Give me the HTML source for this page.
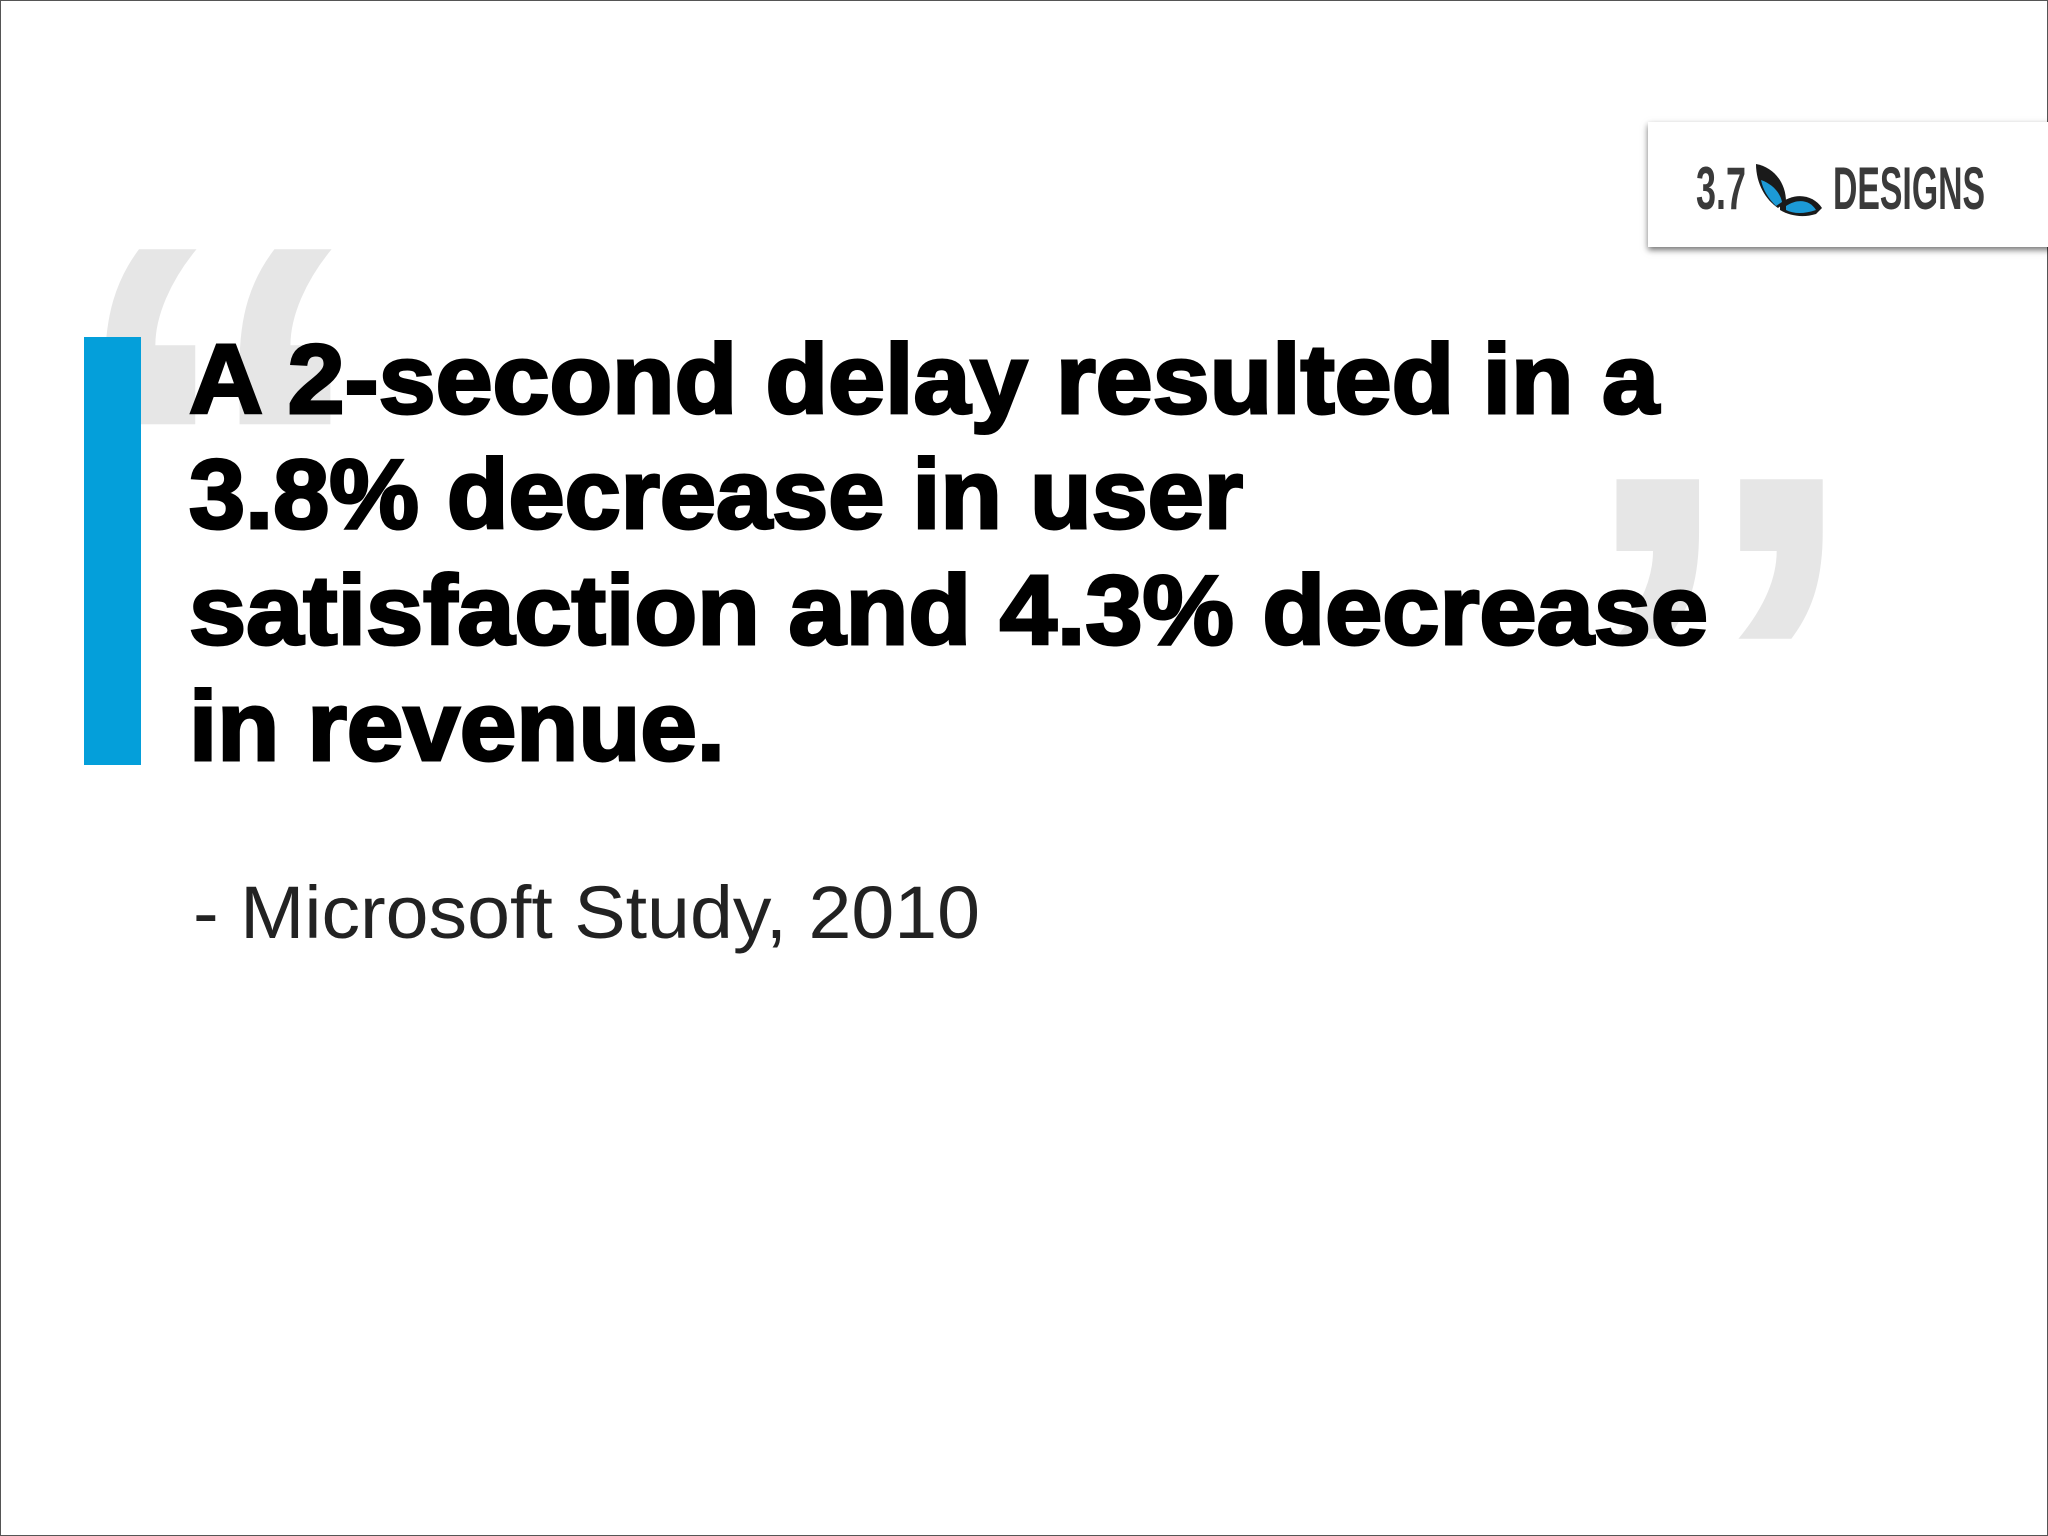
<!DOCTYPE html>
<html>
<head>
<meta charset="utf-8">
<style>
html,body{margin:0;padding:0;background:#fff;}
body{width:2048px;height:1536px;overflow:hidden;position:relative;}
.frame{position:absolute;left:0;top:0;width:2046px;height:1534px;border:1px solid #555;}
.logo{position:absolute;left:1648px;top:122px;width:420px;height:125px;background:#fff;box-shadow:0 3px 6px rgba(0,0,0,.55);}
</style>
</head>
<body>
<div class="frame"></div>
<svg width="2048" height="1536" style="position:absolute;left:0;top:0">
  <text transform="translate(104,248) scale(1.405,1.24) translate(-137,-268)" x="104" y="613" font-family="Liberation Sans, sans-serif" font-weight="bold" font-size="500" fill="#e6e6e6" textLength="229" lengthAdjust="spacingAndGlyphs">“</text>
  <text transform="translate(1613,477) scale(1.37,1.13) translate(-1643,-496)" x="1613" y="842" font-family="Liberation Sans, sans-serif" font-weight="bold" font-size="500" fill="#e6e6e6" textLength="215" lengthAdjust="spacingAndGlyphs">”</text>
  <rect x="84" y="337" width="57" height="428" fill="#049fda"/>
  <g font-family="Liberation Sans, sans-serif" font-weight="900" font-size="98" fill="#000" stroke="#000" stroke-width="3">
    <text x="189" y="413" textLength="1470" lengthAdjust="spacingAndGlyphs">A 2-second delay resulted in a</text>
    <text x="189" y="528" textLength="1054" lengthAdjust="spacingAndGlyphs">3.8% decrease in user</text>
    <text x="189" y="644" textLength="1519" lengthAdjust="spacingAndGlyphs">satisfaction and 4.3% decrease</text>
    <text x="189" y="760" textLength="536" lengthAdjust="spacingAndGlyphs">in revenue.</text>
  </g>
  <text x="193" y="938" font-family="Liberation Sans, sans-serif" font-size="74" fill="#222" textLength="787" lengthAdjust="spacingAndGlyphs">- Microsoft Study, 2010</text>
</svg>
<div class="logo">
  <svg width="400" height="125">
    <text x="48" y="87" font-family="Liberation Sans, sans-serif" font-weight="bold" font-size="60" fill="#3a3a3a" textLength="50" lengthAdjust="spacingAndGlyphs">3.7</text>
    <g>
      <path d="M108 42 C125 45 138 60 138 80 L130 86 C118 78 108 62 108 42Z" fill="#1a1a1a"/>
      <path d="M113 58 C124 62 132 70 134 80 L128 84 C120 76 115 68 113 58Z" fill="#1c9ad6"/>
      <path d="M132 82 C145 70 165 72 174 86 L168 92 C155 96 142 94 132 88Z" fill="#1a1a1a"/>
      <path d="M138 84 C150 76 162 78 168 88 C156 92 146 92 138 88Z" fill="#1c9ad6"/>
    </g>
    <text x="185" y="87" font-family="Liberation Sans, sans-serif" font-weight="bold" font-size="60" fill="#3a3a3a" textLength="152" lengthAdjust="spacingAndGlyphs">DESIGNS</text>
  </svg>
</div>
</body>
</html>
